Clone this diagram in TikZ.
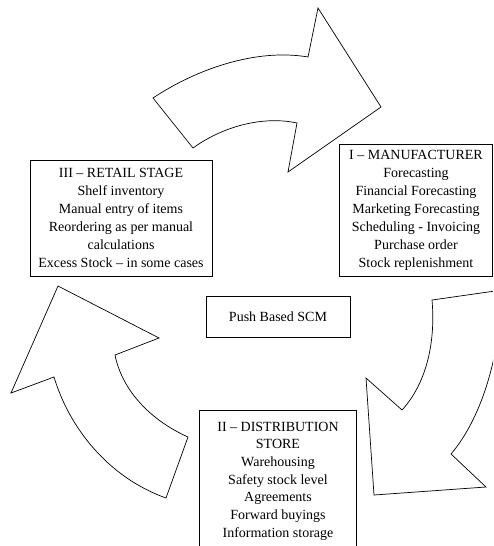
\documentclass[tikz,border=0pt]{standalone}
\usepackage{fontspec}
\setmainfont{Liberation Serif}
\begin{document}
\begin{tikzpicture}[x=1pt,y=-1pt,
  bigarrow/.style={draw=black,fill=white,line width=0.7pt,line join=miter},
  stagebox/.style={draw=black,line width=0.9pt,align=center,inner sep=2pt,
    font=\fontsize{14}{18}\selectfont},
]
\useasboundingbox (0,0) rectangle (493,546);
\clip (0,0) rectangle (493,546);
% top arrow
\draw[bigarrow] (153,98) .. controls (195,70) and (255,48) .. (308,57)
  -- (318,8) -- (381,107) -- (288,172) -- (297,123)
  .. controls (265,116) and (225,125) .. (193,148) -- cycle;
% right arrow
\draw[bigarrow] (432,300) .. controls (436,345) and (425,385) .. (402,410)
  -- (366,378) -- (374,495) -- (486,487) -- (451,454)
  .. controls (480,420) and (500,360) .. (502,290) -- cycle;
% left arrow
\draw[bigarrow] (58,286) -- (159,338) -- (115,355)
  .. controls (122,390) and (150,420) .. (188,437) -- (166,498)
  .. controls (110,478) and (70,430) .. (54,377) -- (11,393) -- cycle;
% boxes
\node[stagebox,minimum width=182pt,minimum height=116pt] (retail) at (121,218)
  {III -- RETAIL STAGE\\Shelf inventory\\Manual entry of items\\Reordering as per manual\\calculations\\Excess Stock -- in some cases};
\node[stagebox,minimum width=153pt,minimum height=132pt] (manu) at (416,210)
  {I -- MANUFACTURER\\Forecasting\\Financial Forecasting\\Marketing Forecasting\\Scheduling - Invoicing\\Purchase order\\Stock replenishment};
\node[stagebox,minimum width=144pt,minimum height=41pt] (push) at (278,317)
  {Push Based SCM};
\node[stagebox,minimum width=157pt,minimum height=142pt,font=\fontsize{14}{17.7}\selectfont] (dist) at (278,481)
  {II -- DISTRIBUTION\\STORE\\Warehousing\\Safety stock level\\Agreements\\Forward buyings\\Information storage};
\end{tikzpicture}
\end{document}
